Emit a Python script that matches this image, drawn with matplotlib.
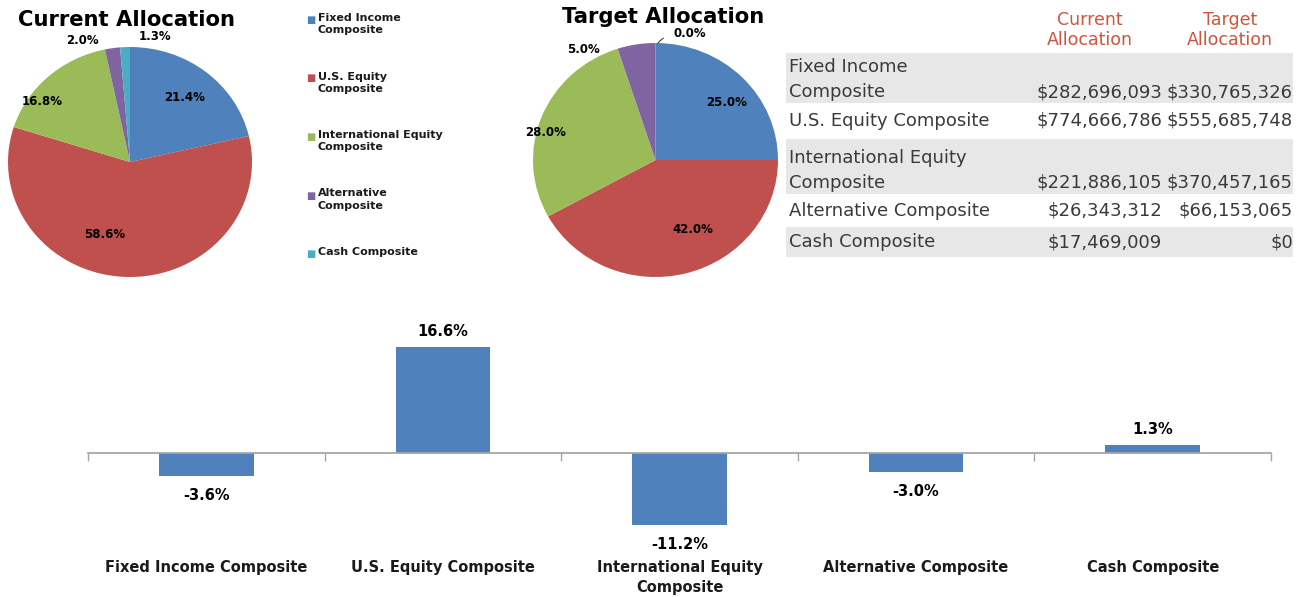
import numpy as np
import matplotlib.pyplot as plt
from matplotlib.patches import Rectangle

# ---- data ----
categories = ["Fixed Income Composite", "U.S. Equity Composite",
              "International Equity Composite", "Alternative Composite", "Cash Composite"]
legend_labels = ["Fixed Income\nComposite", "U.S. Equity\nComposite",
                 "International Equity\nComposite", "Alternative\nComposite", "Cash Composite"]
table_labels = ["Fixed Income\nComposite", "U.S. Equity Composite",
                "International Equity\nComposite", "Alternative Composite", "Cash Composite"]
current_pct = [21.4, 58.6, 16.8, 2.0, 1.3]
target_pct = [25.0, 42.0, 28.0, 5.0, 0.0]
current_usd = [282696093, 774666786, 221886105, 26343312, 17469009]
target_usd = [330765326, 555685748, 370457165, 66153065, 0]
difference_pct = [-3.6, 16.6, -11.2, -3.0, 1.3]
bar_labels = ["International Equity\nComposite" if c.startswith("International") else c
              for c in categories]

colors = ["#4F81BD", "#C0504D", "#9BBB59", "#8064A2", "#4BACC6"]
W, H = 1304, 597

fig = plt.figure(figsize=(W / 100, H / 100), dpi=100)


def fx(px):
    return px / W


def fy(py):
    return 1 - py / H


def pie_panel(box, values, title, title_xy, dists, nudges):
    # box = left, top, width, height in pixels
    left, top, w, h = box
    ax = fig.add_axes([fx(left), fy(top + h), fx(w), h / H])
    wedges, _ = ax.pie(values, colors=colors, startangle=90, counterclock=False,
                       wedgeprops=dict(linewidth=0))
    ax.set_aspect('auto')
    ax.set_xlim(-1, 1)
    ax.set_ylim(-1, 1)
    ax.axis('off')
    for wdg, v, d, nd in zip(wedges, values, dists, nudges):
        ang = np.deg2rad((wdg.theta1 + wdg.theta2) / 2 + nd)
        x, y = d * np.cos(ang), d * np.sin(ang)
        if v == 0:
            ax.annotate(f"{v:.1f}%", xy=(0.02, 1.0), xytext=(0.28, 1.08),
                        fontsize=8.5, fontweight='bold', ha='center', va='center',
                        annotation_clip=False,
                        arrowprops=dict(arrowstyle='-', color='#404040', lw=0.8,
                                        shrinkA=6, shrinkB=0,
                                        connectionstyle="arc3,rad=0.3"))
            continue
        ax.text(x, y, f"{v:.1f}%", fontsize=8.5, fontweight='bold', ha='center',
                va='center', color='black', clip_on=False)
    fig.text(fx(title_xy[0]), fy(title_xy[1]), title, fontsize=15.2,
             fontweight='bold', ha='center', va='center')
    return ax


pie_panel((8, 47, 244, 230), current_pct, "Current Allocation", (126, 20),
          [0.72, 0.66, 0.89, 1.13, 1.11], [0, -16, 12, 12, -13])
pie_panel((533, 43, 245, 234), target_pct, "Target Allocation", (663, 17),
          [0.76, 0.67, 0.93, 1.11, 1.1], [-5, 13, 7, 23, 0])

# ---- legend ----
for i, (lab, c) in enumerate(zip(legend_labels, colors)):
    y0 = 20 + 58.5 * i
    fig.text(fx(311), fy(y0), "\u25A0", color=c, fontsize=7, ha='center', va='center')
    fig.text(fx(318), fy(y0 - 7), lab, fontsize=8, fontweight='bold', ha='left',
             va='top', linespacing=1.3, color='#1a1a1a')

# ---- table ----
head_color = "#D0533B"
txt_color = "#3a3a3a"
fig.text(fx(1090), fy(30), "Current\nAllocation", color=head_color, fontsize=12.5,
         ha='center', va='center', linespacing=1.1)
fig.text(fx(1230), fy(30), "Target\nAllocation", color=head_color, fontsize=12.5,
         ha='center', va='center', linespacing=1.1)
row_bands = [(53, 103), (106, 136), (139, 194), (197, 225), (227, 257)]
row_fill = ["#E7E7E7", "white", "#E7E7E7", "white", "#E7E7E7"]
for (t, b), fc, lab, cu, tg in zip(row_bands, row_fill, table_labels, current_usd, target_usd):
    fig.patches.append(Rectangle((fx(786), fy(b)), fx(1293 - 786), (b - t) / H,
                                 transform=fig.transFigure, facecolor=fc,
                                 edgecolor='none', zorder=0))
    two_lines = "\n" in lab
    y_last = b - 11 if two_lines else (t + b) / 2
    y_lab = y_last - 12.5 if two_lines else y_last
    fig.text(fx(789), fy(y_lab), lab, fontsize=13, color=txt_color, ha='left',
             va='center', linespacing=1.45)
    fig.text(fx(1162), fy(y_last), f"${cu:,.0f}", fontsize=13, color=txt_color,
             ha='right', va='center')
    fig.text(fx(1293), fy(y_last), f"${tg:,.0f}", fontsize=13, color=txt_color,
             ha='right', va='center')

# ---- difference bar chart ----
bx = fig.add_axes([fx(88), fy(530), fx(1271 - 88), 200 / H])
xpos = np.arange(len(categories))
bx.bar(xpos, difference_pct, width=0.4, color="#4F81BD", zorder=2)
bx.set_xlim(-0.5, len(categories) - 0.5)
bx.set_ylim(-12.03, 19.22)
for s in ['top', 'right', 'left']:
    bx.spines[s].set_visible(False)
bx.spines['bottom'].set_position(('data', 0))
bx.spines['bottom'].set_color('#A6A6A6')
bx.spines['bottom'].set_linewidth(1.3)
bx.set_yticks([])
bx.set_xticks(np.arange(-0.5, len(categories), 1.0))
bx.tick_params(axis='x', length=6, color='#A6A6A6', width=1.0, labelbottom=False)

for x, v in zip(xpos, difference_pct):
    off = 11 if v > 0 else -14
    bx.annotate(f"{v:.1f}%", (x, v), xytext=(0, off), textcoords='offset points',
                ha='center', va='center', fontsize=10.5, fontweight='bold',
                annotation_clip=False)
for x, name in zip(xpos, bar_labels):
    bx.text(x, -((568 - 530 - 8) / 200), name, transform=bx.get_xaxis_transform(),
            ha='center', va='top', fontsize=10.5, fontweight='bold',
            linespacing=1.4, color='#1a1a1a')

fig.savefig("out.png", dpi=100)
